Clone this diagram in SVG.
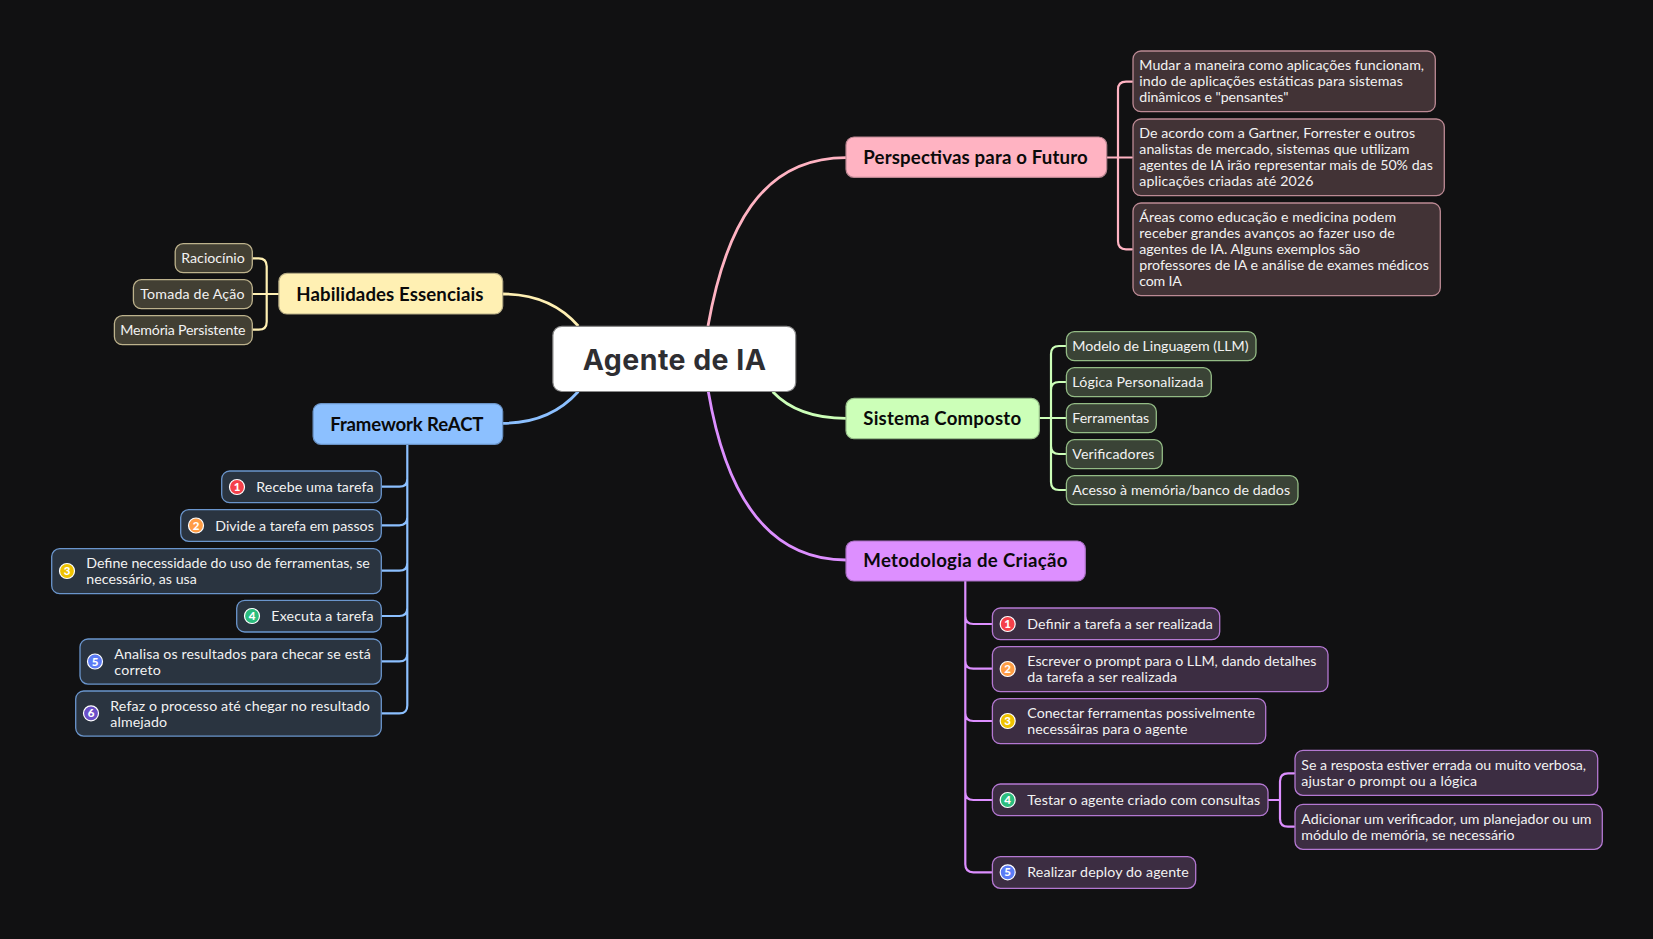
<svg xmlns="http://www.w3.org/2000/svg" width="1653" height="939" viewBox="0 0 1653 939">
<style>
text{font-family:"Lato","Noto Sans",sans-serif}
.t{font-size:14.2px;fill:#f2f2f2;transform:translate(-.4px,-.5px)}
.m{font-size:18.6px;font-weight:700;fill:#0a0a0a;transform:translateX(-.4px)}
.d{font-size:11.5px;font-weight:900;fill:#fff;text-anchor:middle}
.i{stroke:#fff;stroke-width:1.2}
.l{stroke-width:1.3}
.h{stroke-width:1.2}
.c{fill:none;stroke-width:2.2;stroke-linecap:round}
.k{fill:none;stroke-width:2.8}
.y .l{fill:#423f33;stroke:#bdb28c}.y .h{fill:#fff0b3;stroke:#b8ad85}
.b .l{fill:#2a3440;stroke:#6a95cc}.b .h{fill:#8cc0ff;stroke:#6a93c6}
.p .l{fill:#423336;stroke:#bc8a94}.p .h{fill:#ffb3c2;stroke:#b98590}
.g .l{fill:#3a4336;stroke:#93bb85}.g .h{fill:#ccffb8;stroke:#98bf8a}
.v .l{fill:#3c2d42;stroke:#b478d2}.v .h{fill:#dd8fff;stroke:#a86fc2}
</style>
<rect width="1653" height="939" fill="#111112"/>
<g id="connectors">
<g stroke="#ffb3c2">
<path class="k" d="M708 326C725 230 760 157.7 846 157.7"/>
<path class="c" d="M1132 81.7H1126Q1118 81.7 1118 89.7V241.3Q1118 249.3 1126 249.3H1132M1106.5 157.5H1132"/>
</g>
<g stroke="#ccffb8">
<path class="k" d="M772.7 391.7C790 410 815 418.3 846 418.3"/>
<path class="c" d="M1065.5 346H1059Q1051 346 1051 354V482Q1051 490 1059 490H1065.5M1039 418H1065.5M1065.5 382H1059Q1051 382 1051 390M1065.5 454H1059Q1051 454 1051 446"/>
</g>
<g stroke="#dd8fff">
<path class="k" d="M708.3 391.5C725 490 765 560 846 560"/>
<path class="c" d="M965.3 581V864.3Q965.3 872.3 973.3 872.3H991.5M991.5 624H973.3Q965.3 624 965.3 616M991.5 668.7H973.3Q965.3 668.7 965.3 660.7M991.5 721H973.3Q965.3 721 965.3 713M991.5 800H973.3Q965.3 800 965.3 792"/>
<path class="c" d="M1294 773.3H1288Q1280 773.3 1280 781.3V818.7Q1280 826.7 1288 826.7H1294M1268 800H1280"/>
</g>
<g stroke="#fff0b3">
<path class="k" d="M502.7 294C535 294 560 305 578.3 326"/>
<path class="c" d="M252.5 258.3H258.7Q266.7 258.3 266.7 266.3V321.7Q266.7 329.7 258.7 329.7H252.5M252.5 294H278.5"/>
</g>
<g stroke="#8cc0ff">
<path class="k" d="M502.7 423.3C535 423.3 560 412 578.3 391.5"/>
<path class="c" d="M407.3 444V705.4Q407.3 713.4 399.3 713.4H381.5M381.5 486.7H399.3Q407.3 486.7 407.3 478.7M381.5 525.3H399.3Q407.3 525.3 407.3 517.3M381.5 570.7H399.3Q407.3 570.7 407.3 562.7M381.5 616H399.3Q407.3 616 407.3 608M381.5 661.4H399.3Q407.3 661.4 407.3 653.4"/>
</g>
</g>
<g id="root"><rect x="552.9" y="326.3" width="242.8" height="65.2" rx="9" fill="#fff" stroke="#8a8a8a" stroke-width="1.2"/><text x="582.7" y="369.6" style="font-family:Inter,'Noto Sans',sans-serif" font-size="28.5" font-weight="700" fill="#2e2e32" textLength="183.3">Agente de IA</text></g>

<g class="p">
<g id="perspectivas"><rect class="h" x="846" y="137" width="260.7" height="40.3" rx="8"/><text class="m" x="863.7" y="163.7" textLength="224.5">Perspectivas para o Futuro</text></g>
<g id="p1"><rect class="l" x="1133" y="51" width="302.3" height="60.7" rx="8"/><text class="t" x="1139.7" y="70.7" textLength="284.8">Mudar a maneira como aplicações funcionam,</text><text class="t" x="1139.7" y="86.7" textLength="263.5">indo de aplicações estáticas para sistemas</text><text class="t" x="1139.7" y="102.7" textLength="149.2">dinâmicos e "pensantes"</text></g>
<g id="p2"><rect class="l" x="1133" y="119" width="311.3" height="76.7" rx="8"/><text class="t" x="1139.7" y="138.3" textLength="275.8">De acordo com a Gartner, Forrester e outros</text><text class="t" x="1139.7" y="154.3" textLength="270.2">analistas de mercado, sistemas que utilizam</text><text class="t" x="1139.7" y="170.3" textLength="293.5">agentes de IA irão representar mais de 50% das</text><text class="t" x="1139.7" y="186.3" textLength="174.2">aplicações criadas até 2026</text></g>
<g id="p3"><rect class="l" x="1133" y="203" width="307.3" height="92.7" rx="8"/><text class="t" x="1139.7" y="222.7" textLength="256.8">Áreas como educação e medicina podem</text><text class="t" x="1139.7" y="238.7" textLength="255.5">receber grandes avanços ao fazer uso de</text><text class="t" x="1139.7" y="254.7" textLength="220.8">agentes de IA. Alguns exemplos são</text><text class="t" x="1139.7" y="270.7" textLength="289.5">professores de IA e análise de exames médicos</text><text class="t" x="1139.7" y="286.7" textLength="42.5">com IA</text></g>
</g>

<g class="g">
<g id="sistema"><rect class="h" x="846" y="398.3" width="193.3" height="40.4" rx="8"/><text class="m" x="863.7" y="425" textLength="157.8">Sistema Composto</text></g>
<g id="s1"><rect class="l" x="1066.4" y="331.6" width="189.6" height="29.1" rx="8"/><text class="t" x="1072.7" y="351.7" textLength="176.2">Modelo de Linguagem (LLM)</text></g>
<g id="s2"><rect class="l" x="1066.4" y="367.6" width="144.9" height="29.1" rx="8"/><text class="t" x="1072.7" y="387.7" textLength="131.2">Lógica Personalizada</text></g>
<g id="s3"><rect class="l" x="1066.4" y="403.6" width="89.9" height="29.1" rx="8"/><text class="t" x="1072.7" y="423.7" textLength="76.8">Ferramentas</text></g>
<g id="s4"><rect class="l" x="1066.4" y="439.6" width="95.9" height="29.1" rx="8"/><text class="t" x="1072.7" y="459.7" textLength="82.2">Verificadores</text></g>
<g id="s5"><rect class="l" x="1066.4" y="475.6" width="231.6" height="29.1" rx="8"/><text class="t" x="1072.7" y="495.7" textLength="217.8">Acesso à memória/banco de dados</text></g>
</g>

<g class="v">
<g id="metodologia"><rect class="h" x="846" y="541" width="239.3" height="40" rx="8"/><text class="m" x="863.7" y="567" textLength="204.2">Metodologia de Criação</text></g>
<g id="m1"><rect class="l" x="992.4" y="608" width="227.3" height="31.7" rx="8"/><circle class="i" cx="1007.7" cy="624" r="7.5" fill="#f5404a"/><text class="d" x="1007.7" y="628">1</text><text class="t" x="1027.7" y="629" textLength="185.5">Definir a tarefa a ser realizada</text></g>
<g id="m2"><rect class="l" x="992.4" y="646.6" width="335.6" height="45.1" rx="8"/><circle class="i" cx="1007.7" cy="669" r="7.5" fill="#ff9d45"/><text class="d" x="1007.7" y="673">2</text><text class="t" x="1027.7" y="666" textLength="289.2">Escrever o prompt para o LLM, dando detalhes</text><text class="t" x="1027.7" y="682" textLength="149.8">da tarefa a ser realizada</text></g>
<g id="m3"><rect class="l" x="992.4" y="698.6" width="273.3" height="45.1" rx="8"/><circle class="i" cx="1007.7" cy="721" r="7.5" fill="#eec200"/><text class="d" x="1007.7" y="725">3</text><text class="t" x="1027.7" y="718" textLength="227.8">Conectar ferramentas possivelmente</text><text class="t" x="1027.7" y="734" textLength="160.2">necessáiras para o agente</text></g>
<g id="m4"><rect class="l" x="992.4" y="784" width="275.6" height="31.7" rx="8"/><circle class="i" cx="1007.7" cy="800" r="7.5" fill="#2bbd7e"/><text class="d" x="1007.7" y="804">4</text><text class="t" x="1027.7" y="805" textLength="232.8">Testar o agente criado com consultas</text></g>
<g id="m5"><rect class="l" x="992.4" y="856.6" width="203.3" height="31.7" rx="8"/><circle class="i" cx="1007.7" cy="872.3" r="7.5" fill="#5b7bf5"/><text class="d" x="1007.7" y="876.3">5</text><text class="t" x="1027.7" y="877.7" textLength="161.5">Realizar deploy do agente</text></g>
<g id="m41"><rect class="l" x="1295" y="750.3" width="302.7" height="45.1" rx="8"/><text class="t" x="1301.7" y="770.7" textLength="284.8">Se a resposta estiver errada ou muito verbosa,</text><text class="t" x="1301.7" y="786.7" textLength="175.8">ajustar o prompt ou a lógica</text></g>
<g id="m42"><rect class="l" x="1295" y="804.3" width="307.3" height="45.1" rx="8"/><text class="t" x="1301.7" y="824.7" textLength="290.2">Adicionar um verificador, um planejador ou um</text><text class="t" x="1301.7" y="840.7" textLength="213.2">módulo de memória, se necessário</text></g>
</g>

<g class="y">
<g id="habilidades"><rect class="h" x="278.9" y="273.3" width="223.8" height="40.7" rx="8"/><text class="m" x="296.7" y="300.5" textLength="187.2">Habilidades Essenciais</text></g>
<g id="h1"><rect class="l" x="175.2" y="243.6" width="77.1" height="29.1" rx="8"/><text class="t" x="181.7" y="263.3" textLength="63.5">Raciocínio</text></g>
<g id="h2"><rect class="l" x="133.4" y="279.6" width="118.9" height="29.1" rx="8"/><text class="t" x="140.7" y="299.3" textLength="104.2">Tomada de Ação</text></g>
<g id="h3"><rect class="l" x="114.4" y="315.6" width="137.9" height="29.1" rx="8"/><text class="t" x="120.7" y="335.3" textLength="125.2">Memória Persistente</text></g>
</g>

<g class="b">
<g id="framework"><rect class="h" x="313.1" y="403.6" width="189.6" height="40.7" rx="8"/><text class="m" x="330.7" y="431" textLength="153.2">Framework ReACT</text></g>
<g id="f1"><rect class="l" x="221.7" y="471" width="159.6" height="31.7" rx="8"/><circle class="i" cx="237" cy="487" r="7.5" fill="#f5404a"/><text class="d" x="237" y="491">1</text><text class="t" x="256.7" y="492.3" textLength="117.2">Recebe uma tarefa</text></g>
<g id="f2"><rect class="l" x="180.7" y="509.6" width="200.6" height="31.7" rx="8"/><circle class="i" cx="196" cy="525.5" r="7.5" fill="#ff9d45"/><text class="d" x="196" y="529.5">2</text><text class="t" x="215.7" y="531" textLength="158.5">Divide a tarefa em passos</text></g>
<g id="f3"><rect class="l" x="51.7" y="548.6" width="329.6" height="45.1" rx="8"/><circle class="i" cx="67" cy="571" r="7.5" fill="#eec200"/><text class="d" x="67" y="575">3</text><text class="t" x="86.7" y="568.3" textLength="283.5">Define necessidade do uso de ferramentas, se</text><text class="t" x="86.7" y="584.3" textLength="110.5">necessário, as usa</text></g>
<g id="f4"><rect class="l" x="236.7" y="600.3" width="144.6" height="31.7" rx="8"/><circle class="i" cx="252" cy="616" r="7.5" fill="#2bbd7e"/><text class="d" x="252" y="620">4</text><text class="t" x="271.7" y="621.5" textLength="102.2">Executa a tarefa</text></g>
<g id="f5"><rect class="l" x="80" y="639" width="301.3" height="45.1" rx="8"/><circle class="i" cx="95" cy="661.5" r="7.5" fill="#5b7bf5"/><text class="d" x="95" y="665.5">5</text><text class="t" x="114.7" y="659" textLength="256.5">Analisa os resultados para checar se está</text><text class="t" x="114.7" y="675" textLength="46.5">correto</text></g>
<g id="f6"><rect class="l" x="75.7" y="691" width="305.6" height="45.1" rx="8"/><circle class="i" cx="91" cy="713.3" r="7.5" fill="#6a4fc8"/><text class="d" x="91" y="717.3">6</text><text class="t" x="110.7" y="711.5" textLength="259.5">Refaz o processo até chegar no resultado</text><text class="t" x="110.7" y="727.5" textLength="56.8">almejado</text></g>
</g>
</svg>
